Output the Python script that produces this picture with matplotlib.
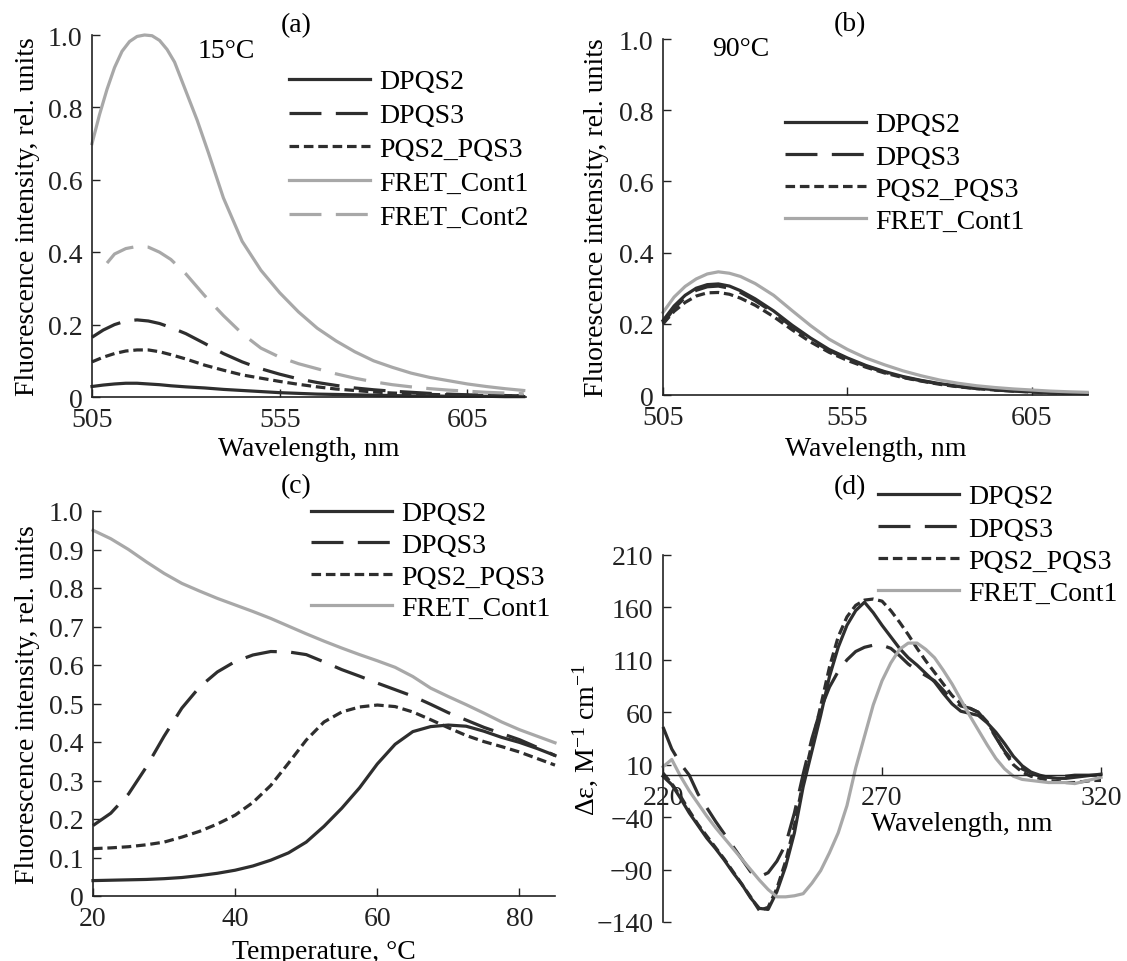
import matplotlib.pyplot as plt
from matplotlib.ticker import FuncFormatter

plt.rcParams['font.family'] = ['Liberation Serif', 'DejaVu Serif']
plt.rcParams['mathtext.fontset'] = 'custom'
plt.rcParams['mathtext.rm'] = 'Liberation Serif'
plt.rcParams['mathtext.it'] = 'Liberation Serif:italic'
plt.rcParams['font.size'] = 20

DARK = '#2e2e2e'
GRAY = '#a8a8a8'

# ---- (a) fluorescence spectra at 15 C ----
wl = [505, 508, 511, 514, 517, 520, 523, 526, 530, 535, 540, 545, 550, 555,
      560, 565, 570, 575, 580, 585, 590, 595, 600, 605, 610, 615, 620]
a_dpqs2 = [0.029, 0.033, 0.036, 0.038, 0.038, 0.036, 0.034, 0.031, 0.028,
           0.025, 0.021, 0.018, 0.015, 0.012, 0.010, 0.008, 0.007, 0.006,
           0.005, 0.004, 0.003, 0.003, 0.002, 0.002, 0.002, 0.001, 0.001]
a_dpqs3 = [0.165, 0.185, 0.200, 0.210, 0.213, 0.210, 0.203, 0.192, 0.175,
           0.148, 0.120, 0.097, 0.078, 0.063, 0.050, 0.040, 0.032, 0.025,
           0.020, 0.016, 0.013, 0.010, 0.008, 0.006, 0.005, 0.004, 0.003]
a_pqs = [0.097, 0.110, 0.120, 0.127, 0.130, 0.130, 0.125, 0.117, 0.105,
         0.088, 0.074, 0.061, 0.052, 0.043, 0.035, 0.028, 0.022, 0.018,
         0.014, 0.011, 0.009, 0.007, 0.006, 0.005, 0.004, 0.003, 0.003]
wl_fret1 = [505, 507, 509, 511, 513, 515, 517, 519, 521, 523, 525, 527, 530,
            533, 536, 540, 545, 550, 555, 560, 565, 570, 575, 580, 585, 590,
            595, 600, 605, 610, 615, 620]
a_fret1 = [0.70, 0.78, 0.85, 0.91, 0.955, 0.982, 0.996, 1.0, 0.998, 0.985,
           0.96, 0.925, 0.845, 0.765, 0.675, 0.55, 0.43, 0.35, 0.288, 0.235,
           0.19, 0.155, 0.125, 0.10, 0.082, 0.066, 0.054, 0.045, 0.036,
           0.029, 0.023, 0.018]
wl_fret2 = [509, 511, 514, 517, 520, 523, 526, 530, 535, 540, 545, 550, 555,
            560, 565, 570, 575, 580, 585, 590, 595, 600, 605, 610, 615, 620]
a_fret2 = [0.37, 0.395, 0.41, 0.416, 0.414, 0.40, 0.38, 0.34, 0.28, 0.225,
           0.175, 0.135, 0.11, 0.092, 0.078, 0.064, 0.052, 0.042, 0.034,
           0.028, 0.023, 0.019, 0.016, 0.013, 0.011, 0.009]

# ---- (b) fluorescence spectra at 90 C ----
b_dpqs2 = [0.209, 0.250, 0.280, 0.300, 0.310, 0.312, 0.306, 0.293, 0.270,
           0.236, 0.196, 0.160, 0.128, 0.104, 0.083, 0.066, 0.052, 0.041,
           0.032, 0.025, 0.019, 0.015, 0.012, 0.009, 0.007, 0.005, 0.004]
b_dpqs3 = [0.200, 0.243, 0.274, 0.294, 0.304, 0.306, 0.300, 0.288, 0.265,
           0.231, 0.192, 0.156, 0.125, 0.101, 0.081, 0.064, 0.050, 0.040,
           0.031, 0.024, 0.018, 0.014, 0.011, 0.009, 0.007, 0.005, 0.004]
b_pqs = [0.200, 0.235, 0.260, 0.278, 0.287, 0.288, 0.283, 0.272, 0.252,
         0.220, 0.183, 0.149, 0.120, 0.097, 0.078, 0.062, 0.049, 0.039,
         0.030, 0.023, 0.018, 0.014, 0.011, 0.008, 0.006, 0.005, 0.004]
b_fret1 = [0.232, 0.275, 0.305, 0.326, 0.340, 0.346, 0.342, 0.333, 0.313,
           0.280, 0.237, 0.195, 0.157, 0.128, 0.104, 0.085, 0.068, 0.054,
           0.042, 0.033, 0.026, 0.021, 0.017, 0.014, 0.011, 0.009, 0.0075]

# ---- (c) melting curves ----
temp = [20, 22.5, 25, 27.5, 30, 32.5, 35, 37.5, 40, 42.5, 45, 47.5, 50, 52.5,
        55, 57.5, 60, 62.5, 65, 67.5, 70, 72.5, 75, 77.5, 80, 82.5, 85]
c_dpqs2 = [0.040, 0.041, 0.042, 0.043, 0.045, 0.048, 0.053, 0.059, 0.067,
           0.078, 0.093, 0.112, 0.140, 0.181, 0.228, 0.281, 0.343, 0.394,
           0.427, 0.440, 0.444, 0.441, 0.428, 0.412, 0.399, 0.383, 0.365]
c_dpqs3 = [0.183, 0.215, 0.265, 0.335, 0.415, 0.488, 0.543, 0.582, 0.609,
           0.626, 0.635, 0.634, 0.627, 0.608, 0.588, 0.571, 0.553, 0.536,
           0.519, 0.498, 0.476, 0.457, 0.438, 0.422, 0.406, 0.386, 0.365]
c_pqs = [0.123, 0.125, 0.128, 0.133, 0.140, 0.153, 0.168, 0.187, 0.210,
         0.243, 0.287, 0.345, 0.405, 0.452, 0.478, 0.491, 0.496, 0.492,
         0.478, 0.458, 0.437, 0.417, 0.401, 0.388, 0.374, 0.357, 0.340]
c_fret1 = [0.950, 0.928, 0.900, 0.868, 0.838, 0.812, 0.792, 0.773, 0.756,
           0.739, 0.721, 0.701, 0.681, 0.662, 0.644, 0.627, 0.611, 0.594,
           0.570, 0.540, 0.518, 0.497, 0.475, 0.452, 0.432, 0.415, 0.398]

# ---- (d) CD spectra ----
cd_wl = list(range(220, 321, 2))
d_dpqs2 = [-1, -9, -22, -36, -48, -60, -70, -81, -93, -104, -117, -127, -128,
           -111, -87, -55, -11, 23, 57, 94, 122, 143, 157, 165, 155, 143, 132,
           121, 112, 105, 97, 89, 78, 68, 61, 59, 57, 50, 41, 30, 18, 9, 3,
           0, -2, -3, -3, -2, -1, 0, 1]
d_dpqs3 = [46, 25, 11, 0, -18, -31, -44, -56, -68, -80, -92, -97, -93, -82,
           -66, -36, 1, 35, 63, 84, 99, 110, 118, 122, 124, 124, 121, 114,
           106, 100, 95, 90, 81, 72, 66, 64, 60, 50, 36, 23, 13, 6, 2, -1,
           -2, -2, -1, 0, 0, 0, 0]
d_pqs = [2, -8, -20, -34, -47, -58, -69, -80, -92, -104, -116, -129, -126,
         -108, -82, -48, -6, 30, 66, 103, 132, 151, 162, 167, 168, 166, 157,
         146, 134, 121, 109, 98, 87, 76, 68, 64, 60, 51, 37, 22, 10, 3, -1,
         -3, -5, -6, -7, -7, -6, -5, -5]
d_fret1 = [8, 15, -1, -15, -27, -39, -50, -60, -70, -80, -90, -100, -109,
           -116, -116, -115, -113, -103, -91, -74, -55, -29, 7, 37, 67, 90,
           107, 120, 126, 126, 120, 112, 100, 87, 72, 57, 43, 29, 16, 6, -1,
           -4, -5, -6, -7, -7, -7, -8, -6, -4, -2]

STYLES = {
    'DPQS2': dict(color=DARK, linestyle='-'),
    'DPQS3': dict(color=DARK, linestyle=(0, (10, 4.5))),
    'PQS2_PQS3': dict(color=DARK, linestyle=(0, (3, 1.5))),
    'FRET_Cont1': dict(color=GRAY, linestyle='-'),
    'FRET_Cont2': dict(color=GRAY, linestyle=(0, (10, 4.5))),
}

W, H = 1127, 962


def px_rect(left, top, right, bottom):
    """axes rectangle from pixel edges of the reference image"""
    return [left / W, 1 - bottom / H, (right - left) / W, (bottom - top) / H]


def style_axes(ax):
    for side in ['top', 'right']:
        ax.spines[side].set_visible(False)
    for side in ['left', 'bottom']:
        ax.spines[side].set_linewidth(1.2)
        ax.spines[side].set_color('#222222')
    ax.tick_params(direction='in', length=6, width=1.0, pad=7,
                   labelsize=20, colors='#222222')


def draw_lines(ax, curves):
    for name, x, y in curves:
        ax.plot(x, y, label=name, linewidth=2.3, dash_capstyle='butt',
                clip_on=False, **STYLES[name])


def add_legend(ax, fig, left_px, top_px, spacing):
    ax.legend(loc='upper left', bbox_to_anchor=(left_px / W, 1 - top_px / H),
              bbox_transform=fig.transFigure, frameon=False, borderpad=0,
              borderaxespad=0, handlelength=2.9, handletextpad=0.35,
              labelspacing=spacing, fontsize=20)


zero_fmt = FuncFormatter(lambda v, p: '0' if abs(v) < 1e-9 else f'{v:.1f}')

fig = plt.figure(figsize=(W / 100, H / 100), dpi=100)

# (a)
ax = fig.add_axes(px_rect(92, 36, 526, 398))
draw_lines(ax, [('DPQS2', wl, a_dpqs2), ('DPQS3', wl, a_dpqs3),
                ('PQS2_PQS3', wl, a_pqs), ('FRET_Cont1', wl_fret1, a_fret1),
                ('FRET_Cont2', wl_fret2, a_fret2)])
ax.set_xlim(505, 620.6)
ax.set_ylim(0, 1.0)
ax.set_xticks([505, 555, 605])
ax.set_yticks([0, 0.2, 0.4, 0.6, 0.8, 1.0])
ax.yaxis.set_major_formatter(zero_fmt)
style_axes(ax)
ax.set_xlabel('Wavelength, nm')
ax.xaxis.set_label_coords(0.5, -0.108)
ax.set_ylabel('Fluorescence intensity, rel. units')
ax.yaxis.set_label_coords(-0.120, 0.5)
ax.text(0.47, 1.03, '(a)', transform=ax.transAxes, ha='center', va='center')
ax.text(0.244, 0.956, '15°C', transform=ax.transAxes, ha='left', va='center')
add_legend(ax, fig, 289, 70, 0.30)

# (b)
ax = fig.add_axes(px_rect(663, 40, 1088, 396))
draw_lines(ax, [('DPQS2', wl, b_dpqs2), ('DPQS3', wl, b_dpqs3),
                ('PQS2_PQS3', wl, b_pqs), ('FRET_Cont1', wl, b_fret1)])
ax.set_xlim(505, 620.2)
ax.set_ylim(0, 1.0)
ax.set_xticks([505, 555, 605])
ax.set_yticks([0, 0.2, 0.4, 0.6, 0.8, 1.0])
ax.yaxis.set_major_formatter(zero_fmt)
style_axes(ax)
ax.set_xlabel('Wavelength, nm')
ax.xaxis.set_label_coords(0.5, -0.115)
ax.set_ylabel('Fluorescence intensity, rel. units')
ax.yaxis.set_label_coords(-0.127, 0.5)
ax.text(0.44, 1.042, '(b)', transform=ax.transAxes, ha='center', va='center')
ax.text(0.115, 0.972, '90°C', transform=ax.transAxes, ha='left', va='center')
add_legend(ax, fig, 785, 113, 0.24)

# (c)
ax = fig.add_axes(px_rect(93, 512, 555, 897))
draw_lines(ax, [('DPQS2', temp, c_dpqs2), ('DPQS3', temp, c_dpqs3),
                ('PQS2_PQS3', temp, c_pqs), ('FRET_Cont1', temp, c_fret1)])
ax.set_xlim(20, 85)
ax.set_ylim(0, 1.0)
ax.set_xticks([20, 40, 60, 80])
ax.set_yticks([i / 10 for i in range(11)])
ax.yaxis.set_major_formatter(zero_fmt)
style_axes(ax)
ax.set_xlabel('Temperature, °C')
ax.xaxis.set_label_coords(0.5, -0.112)
ax.set_ylabel('Fluorescence intensity, rel. units')
ax.yaxis.set_label_coords(-0.115, 0.5)
ax.text(0.44, 1.065, '(c)', transform=ax.transAxes, ha='center', va='center')
add_legend(ax, fig, 311, 502, 0.22)

# (d)
ax = fig.add_axes(px_rect(663, 556, 1101, 923))
draw_lines(ax, [('DPQS2', cd_wl, d_dpqs2), ('DPQS3', cd_wl, d_dpqs3),
                ('PQS2_PQS3', cd_wl, d_pqs), ('FRET_Cont1', cd_wl, d_fret1)])
ax.set_xlim(220, 320)
ax.set_ylim(-140, 210)
ax.set_xticks([220, 270, 320])
ax.set_yticks([-140, -90, -40, 10, 60, 110, 160, 210])
style_axes(ax)
ax.spines['bottom'].set_position(('data', 0))
ax.spines['bottom'].set_linewidth(1.0)
ax.set_xlabel('Wavelength, nm')
ax.xaxis.set_label_coords(0.683, 0.302)
ax.set_ylabel(r'Δε, M$^{-1}$ cm$^{-1}$')
ax.yaxis.set_label_coords(-0.144, 0.5)
ax.text(0.427, 1.185, '(d)', transform=ax.transAxes, ha='center', va='center')
add_legend(ax, fig, 878, 485, 0.24)

fig.savefig('out.png', dpi=100)
